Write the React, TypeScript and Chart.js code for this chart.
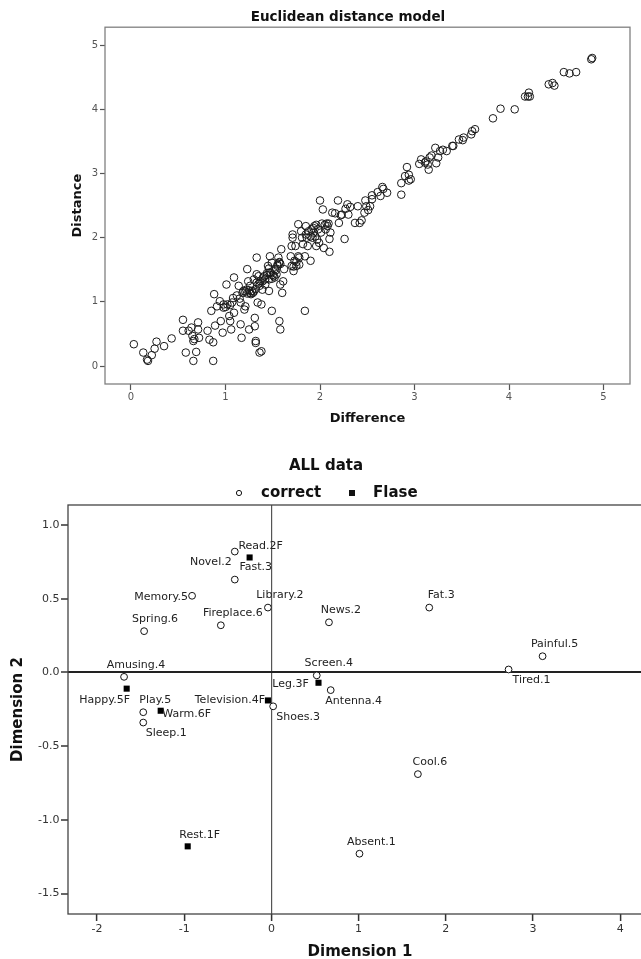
import React, { useEffect, useRef } from "react";
import { Chart, registerables } from "chart.js";

Chart.register(...registerables);
Chart.defaults.font.family = '"DejaVu Sans", sans-serif';

// ---------- Top chart: Euclidean distance model ----------
const difference = [
  0.03, 0.13, 0.18, 0.17, 0.22, 0.25, 0.27, 0.35, 0.43, 0.55, 0.55, 0.58, 0.61, 0.64, 0.65, 0.66, 0.66, 0.67, 0.69, 0.71,
  0.71, 0.72, 0.81, 0.83, 0.85, 0.87, 0.87, 0.88, 0.89, 0.91, 0.94, 0.95, 0.97, 0.98, 1.01, 1.02, 1.04, 1.05, 1.06, 1.07,
  1.08, 1.09, 1.09, 1.14, 1.16, 1.16, 1.17, 1.18, 1.19, 1.20, 1.21, 1.22, 1.23, 1.24, 1.25, 1.26, 1.26, 1.28, 1.29, 1.30,
  1.31, 1.31, 1.32, 1.32, 1.33, 1.33, 1.34, 1.35, 1.36, 1.38, 1.38, 1.39, 1.39, 1.41, 1.42, 1.44, 1.45, 1.46, 1.46, 1.47,
  1.48, 1.49, 1.49, 1.51, 1.52, 1.52, 1.54, 1.55, 1.56, 1.57, 1.57, 1.58, 1.58, 1.59, 1.60, 1.61, 1.62, 1.69, 1.70, 1.70,
  1.71, 1.71, 1.72, 1.73, 1.74, 1.75, 1.77, 1.77, 1.78, 1.80, 1.81, 1.82, 1.84, 1.84, 1.85, 1.86, 1.87, 1.90, 1.91, 1.92,
  1.93, 1.94, 1.95, 1.96, 1.97, 1.98, 1.99, 2.00, 2.01, 2.02, 2.03, 2.04, 2.06, 2.07, 2.09, 2.10, 2.10, 2.11, 2.13, 2.16,
  2.19, 2.20, 2.22, 2.23, 2.26, 2.27, 2.29, 2.30, 2.32, 2.37, 2.40, 2.42, 2.44, 2.47, 2.48, 2.49, 2.51, 2.53, 2.55, 2.55,
  2.61, 2.64, 2.66, 2.67, 2.71, 2.86, 2.86, 2.90, 2.92, 2.94, 2.94, 2.96, 3.05, 3.07, 3.11, 3.12, 3.14, 3.15, 3.16, 3.18,
  3.22, 3.23, 3.25, 3.27, 3.30, 3.34, 3.40, 3.41, 3.47, 3.51, 3.52, 3.60, 3.61, 3.64, 3.83, 3.91, 4.06, 4.17, 4.20, 4.21,
  4.22, 4.42, 4.46, 4.48, 4.58, 4.64, 4.71, 4.87, 4.88,
  1.21, 1.23, 1.25, 1.27, 1.30, 1.32, 1.35, 1.37, 1.40, 1.42, 1.44, 1.47, 1.50, 1.53, 1.55, 1.57, 1.58, 1.36, 1.33, 1.46,
  1.49, 1.85, 1.88, 1.90, 1.93, 1.96, 2.05, 2.08, 1.75, 1.78, 1.72, 1.12, 1.15, 1.05, 1.00, 0.98,
];
const distance = [
  0.34, 0.21, 0.08, 0.10, 0.17, 0.27, 0.38, 0.31, 0.43, 0.72, 0.55, 0.21, 0.55, 0.60, 0.47, 0.39, 0.08, 0.42, 0.22, 0.68,
  0.57, 0.44, 0.55, 0.41, 0.86, 0.08, 0.37, 1.12, 0.63, 0.93, 1.01, 0.70, 0.52, 0.91, 1.27, 0.96, 0.78, 0.70, 0.57, 0.99,
  1.06, 0.83, 1.38, 1.25, 0.65, 0.99, 0.44, 1.14, 1.17, 0.88, 0.93, 1.19, 1.51, 1.32, 0.57, 1.14, 1.25, 1.17, 1.14, 1.35,
  0.75, 0.62, 0.36, 0.39, 1.69, 1.30, 0.99, 1.40, 0.21, 0.23, 0.96, 1.19, 1.32, 1.40, 1.27, 1.45, 1.56, 1.17, 1.35, 1.71,
  1.45, 0.86, 1.61, 1.40, 1.51, 1.38, 1.43, 1.56, 1.69, 0.70, 1.61, 0.57, 1.27, 1.82, 1.14, 1.32, 1.51, 1.71, 1.56, 1.87,
  2.05, 2.00, 1.48, 1.64, 1.87, 1.56, 2.21, 1.71, 1.69, 2.10, 2.00, 1.90, 1.71, 0.86, 2.18, 2.00, 1.87, 1.64, 2.13, 2.00,
  2.08, 2.18, 2.02, 1.87, 1.97, 2.13, 1.92, 2.58, 2.08, 2.22, 2.44, 1.84, 2.13, 2.22, 2.22, 1.98, 1.78, 2.08, 2.39, 2.38,
  2.58, 2.23, 2.35, 2.36, 1.98, 2.45, 2.52, 2.36, 2.48, 2.23, 2.49, 2.23, 2.27, 2.39, 2.58, 2.49, 2.43, 2.49, 2.60, 2.66,
  2.71, 2.65, 2.79, 2.76, 2.70, 2.67, 2.85, 2.96, 3.10, 2.89, 2.98, 2.91, 3.15, 3.22, 3.17, 3.19, 3.14, 3.06, 3.25, 3.28,
  3.40, 3.16, 3.25, 3.35, 3.37, 3.35, 3.43, 3.43, 3.53, 3.52, 3.56, 3.61, 3.66, 3.69, 3.86, 4.01, 4.00, 4.20, 4.20, 4.26,
  4.20, 4.39, 4.41, 4.37, 4.58, 4.56, 4.58, 4.78, 4.80,
  1.16, 1.13, 1.18, 1.12, 1.16, 1.20, 1.28, 1.32, 1.38, 1.35, 1.42, 1.46, 1.42, 1.49, 1.58, 1.62, 1.59, 1.25, 1.43, 1.52,
  1.36, 2.05, 2.10, 2.02, 2.15, 2.20, 2.20, 2.18, 1.62, 1.58, 1.55, 1.10, 1.05, 0.95, 0.92, 0.96,
];
const topTicks = [0, 1, 2, 3, 4, 5];

// ---------- Bottom chart: ALL data ----------
const correctLabels = [
  "Novel.2", "Fast.3", "Memory.5", "Library.2", "Fireplace.6", "Spring.6", "News.2", "Fat.3", "Painful.5",
  "Tired.1", "Screen.4", "Antenna.4", "Amusing.4", "Play.5", "Sleep.1", "Shoes.3", "Cool.6", "Absent.1",
];
const correctDim1 = [-0.42, -0.42, -0.91, -0.04, -0.58, -1.46, 0.66, 1.81, 3.11, 2.72, 0.52, 0.68, -1.69, -1.47, -1.47, 0.02, 1.68, 1.01];
const correctDim2 = [0.82, 0.63, 0.52, 0.44, 0.32, 0.28, 0.34, 0.44, 0.11, 0.02, -0.02, -0.12, -0.03, -0.27, -0.34, -0.23, -0.69, -1.23];

const flaseLabels = ["Read.2F", "Happy.5F", "Warm.6F", "Television.4F", "Leg.3F", "Rest.1F"];
const flaseDim1 = [-0.25, -1.66, -1.27, -0.04, 0.54, -0.96];
const flaseDim2 = [0.78, -0.11, -0.26, -0.19, -0.07, -1.18];

const dim1Ticks = [-2, -1, 0, 1, 2, 3, 4];
const dim2Ticks = [-1.5, -1.0, -0.5, 0.0, 0.5, 1.0];

// label placement (pixel offsets of label centre from its point)
const correctLabelOffsets = [
  [-24, 11], [21, -12], [-31, 1], [12, -12], [12, -12], [11, -12], [12, -12], [12, -12], [12, -12],
  [23, 11], [12, -12], [23, 11], [12, -12], [12, -12], [23, 11], [25, 11], [12, -12], [12, -12],
];
const flaseLabelOffsets = [[11, -11], [-22, 11], [26, 3], [-38, 0], [-28, 1], [12, -11]];

const framePlugin = (id: string, color: string, width: number) => ({
  id,
  beforeDatasetsDraw(chart: any) {
    const { ctx, chartArea: a } = chart;
    ctx.save();
    ctx.strokeStyle = color;
    ctx.lineWidth = width;
    ctx.strokeRect(a.left, a.top, a.right - a.left, a.bottom - a.top);
    ctx.restore();
  },
});

const pointLabelPlugin = {
  id: "pointLabels",
  afterDatasetsDraw(chart: any) {
    const { ctx } = chart;
    const xs = chart.scales.x;
    const ys = chart.scales.y;
    ctx.save();
    ctx.font = '11px "DejaVu Sans"';
    ctx.fillStyle = "#222";
    ctx.textAlign = "center";
    ctx.textBaseline = "middle";
    chart.data.datasets.forEach((ds: any, di: number) => {
      const names = di === 0 ? correctLabels : flaseLabels;
      const offs = di === 0 ? correctLabelOffsets : flaseLabelOffsets;
      ds.data.forEach((p: any, i: number) => {
        ctx.fillText(names[i], xs.getPixelForValue(p.x) + offs[i][0], ys.getPixelForValue(p.y) + offs[i][1]);
      });
    });
    ctx.restore();
  },
};

const legendPlugin = {
  id: "customLegend",
  afterDraw(chart: any) {
    const { ctx } = chart;
    const y = 53;
    ctx.save();
    ctx.font = 'bold 15px "DejaVu Sans"';
    ctx.fillStyle = "#111";
    ctx.textAlign = "left";
    ctx.textBaseline = "middle";
    ctx.strokeStyle = "#111";
    ctx.lineWidth = 1;
    ctx.beginPath();
    ctx.arc(239, y, 2.6, 0, Math.PI * 2);
    ctx.stroke();
    ctx.fillText(chart.data.datasets[0].label, 261, y);
    ctx.fillRect(349, y - 3, 6, 6);
    ctx.fillText(chart.data.datasets[1].label, 373, y);
    ctx.restore();
  },
};

function TopChart() {
  const ref = useRef<HTMLCanvasElement | null>(null);
  useEffect(() => {
    if (!ref.current) return;
    const chart = new Chart(ref.current, {
      type: "scatter",
      data: {
        datasets: [
          {
            label: "Distance",
            data: difference.map((x, i) => ({ x, y: distance[i] })),
            pointStyle: "circle",
            pointRadius: 3.8,
            pointBorderWidth: 1,
            pointBorderColor: "#1a1a1a",
            pointBackgroundColor: "rgba(0,0,0,0)",
          },
        ],
      },
      options: {
        responsive: false,
        devicePixelRatio: 1,
        animation: false,
        layout: { padding: { left: 66, right: 11, top: 0, bottom: 0 } },
        plugins: {
          legend: { display: false },
          tooltip: { enabled: false },
          title: {
            display: true,
            text: "Euclidean distance model",
            color: "#111",
            font: { size: 13.5, weight: "bold" },
            padding: { top: 9, bottom: 2 },
          },
        },
        scales: {
          x: {
            type: "linear",
            min: -0.275,
            max: 5.28,
            afterFit: (s: any) => { s.height = 56; },
            afterBuildTicks: (s: any) => { s.ticks = topTicks.map((v) => ({ value: v })); },
            ticks: { color: "#555", font: { size: 10 }, padding: 1, callback: (v: any) => String(v) },
            grid: { drawOnChartArea: false, drawTicks: true, tickLength: 6, tickColor: "#555", tickWidth: 1.2 },
            border: { display: false },
            title: { display: true, text: "Difference", color: "#111", font: { size: 13, weight: "bold" }, padding: { top: 0, bottom: 14 } },
          },
          y: {
            type: "linear",
            min: -0.28,
            max: 5.28,
            afterFit: (s: any) => { s.width = 39; },
            afterBuildTicks: (s: any) => { s.ticks = topTicks.map((v) => ({ value: v })); },
            ticks: { color: "#555", font: { size: 10 }, padding: 2, callback: (v: any) => String(v) },
            grid: { drawOnChartArea: false, drawTicks: true, tickLength: 5, tickColor: "#555", tickWidth: 1.2 },
            border: { display: false },
            title: { display: true, text: "Distance", color: "#111", font: { size: 13, weight: "bold" }, padding: { top: 4, bottom: 0 } },
          },
        },
      } as any,
      plugins: [framePlugin("topFrame", "#808080", 1.3)],
    });
    return () => chart.destroy();
  }, []);
  return <canvas ref={ref} width={641} height={440} style={{ display: "block" }} />;
}

function BottomChart() {
  const ref = useRef<HTMLCanvasElement | null>(null);
  useEffect(() => {
    if (!ref.current) return;
    const chart = new Chart(ref.current, {
      type: "scatter",
      data: {
        datasets: [
          {
            label: "correct",
            data: correctDim1.map((x, i) => ({ x, y: correctDim2[i] })),
            pointStyle: "circle",
            pointRadius: 3.4,
            pointBorderWidth: 1,
            pointBorderColor: "#111",
            pointBackgroundColor: "#fff",
          },
          {
            label: "Flase",
            data: flaseDim1.map((x, i) => ({ x, y: flaseDim2[i] })),
            pointStyle: "rect",
            pointRadius: 4.3,
            pointBorderWidth: 0,
            pointBorderColor: "#000",
            pointBackgroundColor: "#000",
          },
        ],
      },
      options: {
        responsive: false,
        devicePixelRatio: 1,
        animation: false,
        layout: { padding: { left: 0, right: 8, top: 0, bottom: 0 } },
        plugins: {
          legend: { display: false },
          tooltip: { enabled: false },
          title: {
            display: true,
            text: "ALL data",
            color: "#111",
            font: { size: 15, weight: "bold" },
            padding: { top: 17, bottom: 30 },
          },
        },
        scales: {
          x: {
            type: "linear",
            min: -2.333,
            max: 4.365,
            afterFit: (s: any) => { s.height = 56; },
            afterBuildTicks: (s: any) => { s.ticks = dim1Ticks.map((v) => ({ value: v })); },
            ticks: { color: "#333", font: { size: 11 }, padding: 1.5, callback: (v: any) => String(v) },
            grid: {
              drawOnChartArea: true,
              drawTicks: true,
              tickLength: 7,
              tickColor: "#333",
              tickWidth: 1.5,
              color: (c: any) => (c.tick && c.tick.value === 0 ? "#555" : "rgba(0,0,0,0)"),
              lineWidth: 1.2,
            },
            border: { display: false },
            title: { display: true, text: "Dimension 1", color: "#111", font: { size: 15, weight: "bold" }, padding: { top: 0, bottom: 9 } },
          },
          y: {
            type: "linear",
            min: -1.639,
            max: 1.136,
            afterFit: (s: any) => { s.width = 68; },
            afterBuildTicks: (s: any) => { s.ticks = dim2Ticks.map((v) => ({ value: v })); },
            ticks: { color: "#333", font: { size: 11 }, padding: 1.5, callback: (v: any) => Number(v).toFixed(1) },
            grid: {
              drawOnChartArea: true,
              drawTicks: true,
              tickLength: 7,
              tickColor: "#333",
              tickWidth: 1.5,
              color: (c: any) => (c.tick && c.tick.value === 0 ? "#222" : "rgba(0,0,0,0)"),
              lineWidth: 2,
            },
            border: { display: false },
            title: { display: true, text: "Dimension 2", color: "#111", font: { size: 15, weight: "bold" }, padding: { top: 9, bottom: 0 } },
          },
        },
      } as any,
      plugins: [framePlugin("bottomFrame", "#444", 1.3), pointLabelPlugin, legendPlugin],
    });
    return () => chart.destroy();
  }, []);
  return <canvas ref={ref} width={660} height={530} style={{ display: "block" }} />;
}

export default function App() {
  return (
    <div
      style={{
        position: "absolute",
        left: 0,
        top: 0,
        width: 641,
        height: 959,
        overflow: "hidden",
        background: "#fff",
      }}
    >
      <div style={{ position: "absolute", left: 0, top: 0, width: 641, height: 440 }}>
        <TopChart />
      </div>
      <div style={{ position: "absolute", left: 0, top: 440, width: 660, height: 530 }}>
        <BottomChart />
      </div>
    </div>
  );
}
